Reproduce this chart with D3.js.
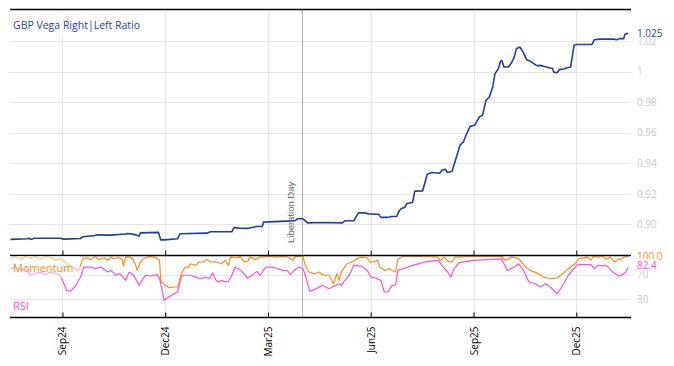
<!DOCTYPE html>
<html><head><meta charset="utf-8">
<script src="https://cdn.jsdelivr.net/npm/d3@7"></script>
<style>
html,body{margin:0;padding:0;background:#fff;}
svg{display:block;}
text{font-family:"Open Sans","Noto Sans",sans-serif;}
</style></head><body>
<svg id="c" width="674" height="366"></svg>
<script>
// ---------- DATA ----------
const dateDomain = ["2024-07-18", "2026-01-18"];
const ratioDates = ["2024-07-18","2024-08-02","2024-08-03","2024-08-05","2024-08-08","2024-08-31","2024-09-03","2024-09-18","2024-09-20","2024-10-01","2024-10-03","2024-10-15","2024-10-28","2024-10-30","2024-11-04","2024-11-09","2024-11-10","2024-11-26","2024-11-28","2024-12-01","2024-12-13","2024-12-15","2025-01-08","2025-01-11","2025-01-30","2025-02-01","2025-02-05","2025-02-13","2025-02-18","2025-02-21","2025-02-26","2025-02-27","2025-03-14","2025-03-27","2025-03-29","2025-04-03","2025-04-07","2025-04-19","2025-05-08","2025-05-10","2025-05-18","2025-05-22","2025-05-27","2025-05-31","2025-06-09","2025-06-11","2025-06-17","2025-06-20","2025-06-25","2025-06-27","2025-06-29","2025-07-02","2025-07-04","2025-07-09","2025-07-11","2025-07-18","2025-07-22","2025-07-26","2025-08-02","2025-08-04","2025-08-07","2025-08-09","2025-08-13","2025-08-16","2025-08-20","2025-08-23","2025-08-26","2025-08-29","2025-09-02","2025-09-06","2025-09-09","2025-09-12","2025-09-15","2025-09-18","2025-09-20","2025-09-23","2025-09-25","2025-09-26","2025-09-28","2025-10-02","2025-10-05","2025-10-07","2025-10-09","2025-10-12","2025-10-15","2025-10-18","2025-10-21","2025-10-27","2025-10-30","2025-11-02","2025-11-07","2025-11-10","2025-11-11","2025-11-14","2025-11-16","2025-11-20","2025-11-23","2025-11-26","2025-11-29","2025-12-01","2025-12-15","2025-12-17","2025-12-22","2026-01-03","2026-01-06","2026-01-08","2026-01-12","2026-01-13","2026-01-16"];
const ratioValues = [0.8902,0.8906,0.8910,0.8902,0.8910,0.8910,0.8904,0.8908,0.8919,0.8928,0.8932,0.8930,0.8937,0.8941,0.8935,0.8925,0.8945,0.8948,0.8899,0.8899,0.8906,0.8939,0.8943,0.8952,0.8952,0.8980,0.8976,0.8974,0.8982,0.8987,0.8987,0.9015,0.9020,0.9024,0.9037,0.9037,0.9010,0.9013,0.9010,0.9024,0.9024,0.9076,0.9076,0.9069,0.9067,0.9046,0.9046,0.9052,0.9052,0.9087,0.9105,0.9111,0.9137,0.9144,0.9218,0.9220,0.9329,0.9340,0.9335,0.9355,0.9361,0.9340,0.9348,0.9420,0.9518,0.9540,0.9595,0.9642,0.9649,0.9703,0.9714,0.9812,0.9834,0.9899,0.9987,1.0020,1.0069,1.0074,1.0030,1.0030,1.0063,1.0095,1.0150,1.0161,1.0128,1.0078,1.0069,1.0039,1.0041,1.0035,1.0026,1.0020,0.9997,0.9993,1.0013,1.0017,1.0026,1.0030,1.0172,1.0178,1.0178,1.0209,1.0213,1.0213,1.0209,1.0216,1.0216,1.0244,1.0252];

const momDates = ["2024-07-18","2024-07-22","2024-07-27","2024-07-31","2024-08-05","2024-08-09","2024-08-14","2024-08-18","2024-08-22","2024-08-27","2024-08-31","2024-09-05","2024-09-09","2024-09-14","2024-09-16","2024-09-18","2024-09-20","2024-09-24","2024-09-27","2024-10-01","2024-10-04","2024-10-09","2024-10-12","2024-10-15","2024-10-17","2024-10-22","2024-10-25","2024-10-26","2024-10-28","2024-10-31","2024-11-03","2024-11-06","2024-11-07","2024-11-10","2024-11-13","2024-11-17","2024-11-22","2024-11-25","2024-11-27","2024-11-28","2024-12-02","2024-12-06","2024-12-10","2024-12-13","2024-12-15","2024-12-17","2024-12-20","2024-12-23","2024-12-24","2024-12-29","2025-01-01","2025-01-05","2025-01-08","2025-01-11","2025-01-16","2025-01-21","2025-01-24","2025-01-27","2025-01-29","2025-02-02","2025-02-07","2025-02-10","2025-02-13","2025-02-15","2025-02-20","2025-02-24","2025-03-04","2025-03-10","2025-03-16","2025-03-21","2025-03-25","2025-03-27","2025-04-03","2025-04-05","2025-04-08","2025-04-13","2025-04-17","2025-04-21","2025-04-26","2025-04-30","2025-05-03","2025-05-05","2025-05-07","2025-05-09","2025-05-12","2025-05-17","2025-05-20","2025-05-25","2025-05-30","2025-06-01","2025-06-05","2025-06-08","2025-06-10","2025-06-12","2025-06-15","2025-06-18","2025-06-21","2025-06-24","2025-06-26","2025-06-30","2025-07-12","2025-07-20","2025-07-31","2025-08-03","2025-08-06","2025-08-10","2025-08-13","2025-08-16","2025-09-01","2025-09-26","2025-09-29","2025-10-05","2025-10-11","2025-10-16","2025-10-21","2025-10-27","2025-11-02","2025-11-08","2025-11-14","2025-11-19","2025-11-24","2025-11-30","2025-12-03","2025-12-11","2025-12-14","2025-12-16","2025-12-21","2025-12-24","2025-12-28","2025-12-31","2026-01-04","2026-01-08","2026-01-09","2026-01-12","2026-01-16"];
const momValues = [97,100,95,100,97,100,96,100,99,94,97,90,84,80,76,85,96,98,95,99.7,95,98,93.7,99,96.5,98,95,85,99,99,96.5,85,77,91,96.5,99.7,99,96.5,94,60.6,52.4,48.5,49.6,49.6,63.3,74.4,82.6,82.6,88,85.4,90.9,90.9,95.3,90.9,91,88,94,85.4,99,98,99,91,92,99,95.3,99,100,99,100,99,93.7,100,100,85.4,74.4,71.6,74.4,69,69,55,71.6,60.6,74.4,80,88,91,96,99,98,91,91,94,82.6,80,77,80,77,74.4,96,100,100,100,99,93.7,99,91,92,99,100,100,93.7,99,96.5,85.4,77,73,66,63.3,64.5,71.6,80,88,96,99,94,100,99,100,95.3,99,91,96.5,94,99,100];

const rsiDates = ["2024-07-18","2024-07-22","2024-07-27","2024-07-31","2024-08-05","2024-08-09","2024-08-14","2024-08-18","2024-08-22","2024-08-27","2024-08-31","2024-09-06","2024-09-09","2024-09-14","2024-09-18","2024-09-21","2024-09-27","2024-10-01","2024-10-06","2024-10-12","2024-10-15","2024-10-19","2024-10-23","2024-10-28","2024-10-31","2024-11-04","2024-11-09","2024-11-12","2024-11-15","2024-11-19","2024-11-25","2024-11-27","2024-11-29","2024-12-01","2024-12-05","2024-12-10","2024-12-13","2024-12-16","2024-12-18","2024-12-24","2024-12-29","2025-01-02","2025-01-07","2025-01-10","2025-01-13","2025-01-16","2025-01-18","2025-01-21","2025-01-24","2025-01-27","2025-01-30","2025-02-02","2025-02-07","2025-02-13","2025-02-17","2025-02-21","2025-02-24","2025-03-01","2025-03-07","2025-03-11","2025-03-16","2025-03-20","2025-03-23","2025-03-26","2025-03-30","2025-04-03","2025-04-05","2025-04-09","2025-04-14","2025-04-20","2025-04-26","2025-05-02","2025-05-05","2025-05-07","2025-05-09","2025-05-14","2025-05-18","2025-05-25","2025-05-30","2025-06-02","2025-06-06","2025-06-11","2025-06-14","2025-06-17","2025-06-21","2025-06-24","2025-06-26","2025-07-01","2025-07-09","2025-07-18","2025-07-20","2025-08-01","2025-08-04","2025-08-09","2025-08-12","2025-08-14","2025-08-19","2025-09-01","2025-09-26","2025-10-01","2025-10-07","2025-10-11","2025-10-16","2025-10-20","2025-10-26","2025-10-30","2025-11-04","2025-11-08","2025-11-14","2025-11-19","2025-11-24","2025-12-02","2025-12-14","2025-12-17","2025-12-20","2025-12-28","2026-01-03","2026-01-08","2026-01-11","2026-01-14","2026-01-16"];
const rsiValues = [80,82,78,80,69,72,74,70,74,72,69,44,42.5,52.4,66,82.6,82.6,80,82.6,74.4,77,69,71.6,60.6,74.4,69,52.4,63.3,69,67.8,70,63.3,46.8,27.6,33,38.5,41.3,66,69,69,66,63.3,66,63.3,73,60.6,57.9,60.6,58,59,69,82.6,77,64.5,69,75.5,69,82.6,82.6,80,77,77,70,77,82.6,80,69,42.5,45.7,52.4,46.8,52.4,55,52.4,57.9,69,85.4,84,77,66,64.5,60.6,41.3,41.3,52.4,53,77,80,85.4,89.8,91,93.7,85.4,74.4,66,77,89.8,93.7,96,77,82.6,88,74.4,57.9,55,49.6,55,49.6,38.5,52.4,69,86.5,86.5,80,85,85,73,67.8,70,74.4,82.4];

const tickDates = ["2024-09-02","2024-12-02","2025-03-03","2025-06-02","2025-09-01","2025-12-01"];
const tickLabels = ["Sep24","Dec24","Mar25","Jun25","Sep25","Dec25"];
const ratioTicks = [0.90,0.92,0.94,0.96,0.98,1.00,1.02];
const ratioTickLabels = ["0.90","0.92","0.94","0.96","0.98","1","1.02"];
const oscTicks = [70,30];
const eventDate = "2025-04-02";
const eventLabel = "Liberation Day";
const titleText = "GBP Vega Right|Left Ratio";

// ---------- STYLE ----------
const BLUE = "#1c3fa3", ORANGE = "#ff8c1a", PINK = "#ff4fd8", GRID = "#e6e6e6", TICKTXT = "#c8c8c8";
const pL = 10, pR = 630, topY = 9, midY = 255, botY = 317;

const parse = d3.timeParse("%Y-%m-%d");
const svg = d3.select("#c");

const x = d3.scaleTime().domain(dateDomain.map(parse)).range([pL + 0.5, pR + 0.5]);
const yTop = d3.scaleLinear().domain([0.88, 1.041]).range([midY, topY]);
const yBot = d3.scaleLinear().domain([0, 102.5]).range([botY, midY]);

const ratio = ratioDates.map((d, i) => ({date: parse(d), v: ratioValues[i]}));
const mom = momDates.map((d, i) => ({date: parse(d), v: momValues[i]}));
const rsi = rsiDates.map((d, i) => ({date: parse(d), v: rsiValues[i]}));
const ticks = tickDates.map(parse);

// gridlines
const g = svg.append("g");
g.selectAll(".hg").data(ratioTicks).join("line")
  .attr("x1", pL).attr("x2", pR)
  .attr("y1", d => Math.round(yTop(d)) + 0.5).attr("y2", d => Math.round(yTop(d)) + 0.5)
  .attr("stroke", GRID).attr("stroke-width", 1);
g.selectAll(".hg2").data(oscTicks).join("line")
  .attr("x1", pL).attr("x2", pR)
  .attr("y1", d => Math.round(yBot(d)) + 0.5).attr("y2", d => Math.round(yBot(d)) + 0.5)
  .attr("stroke", GRID).attr("stroke-width", 1);
g.selectAll(".vg").data(ticks).join("line")
  .attr("x1", d => Math.round(x(d)) + 0.5).attr("x2", d => Math.round(x(d)) + 0.5)
  .attr("y1", topY).attr("y2", botY)
  .attr("stroke", GRID).attr("stroke-width", 1);

// event line
const ex = Math.round(x(parse(eventDate))) + 0.5;
svg.append("line").attr("x1", ex).attr("x2", ex).attr("y1", topY).attr("y2", botY)
  .attr("stroke", "#b0b0b0").attr("stroke-width", 1);
svg.append("text").attr("transform", `translate(${ex - 9},243) rotate(-90)`)
  .attr("fill", "#666").style("font-family", "'Liberation Sans',Arial,sans-serif")
  .style("font-size", "9.5px").text(eventLabel);

// clip paths
svg.append("clipPath").attr("id", "ct").append("rect").attr("x", pL).attr("y", topY).attr("width", pR - pL + 2).attr("height", midY - topY);
svg.append("clipPath").attr("id", "cb").append("rect").attr("x", pL).attr("y", midY).attr("width", pR - pL + 2).attr("height", botY - midY);

// series
const lineTop = d3.line().x(d => x(d.date)).y(d => yTop(d.v));
const lineBot = d3.line().x(d => x(d.date)).y(d => yBot(d.v));
svg.append("path").datum(ratio).attr("d", lineTop).attr("fill", "none")
  .attr("stroke", BLUE).attr("stroke-width", 1.6).attr("stroke-linejoin", "round").attr("clip-path", "url(#ct)");
svg.append("path").datum(rsi).attr("d", lineBot).attr("fill", "none")
  .attr("stroke", PINK).attr("stroke-width", 1.2).attr("stroke-linejoin", "round").attr("clip-path", "url(#cb)");
svg.append("path").datum(mom).attr("d", lineBot).attr("fill", "none")
  .attr("stroke", ORANGE).attr("stroke-width", 1.2).attr("stroke-linejoin", "round").attr("clip-path", "url(#cb)");

// panel borders
[topY, midY, botY].forEach(yy => {
  svg.append("line").attr("x1", pL).attr("x2", pR + 1).attr("y1", yy + 0.5).attr("y2", yy + 0.5)
    .attr("stroke", "#000").attr("stroke-width", 1.3);
});

// x ticks (inward) + labels via axis
const axTop = d3.axisBottom(x).tickValues(ticks).tickSizeInner(-5).tickSizeOuter(0).tickFormat("");
svg.append("g").attr("transform", `translate(0,${midY + 0.5})`).call(axTop)
  .call(a => a.select(".domain").remove())
  .call(a => a.selectAll("line").attr("stroke", "#000"));
const axBot = d3.axisBottom(x).tickValues(ticks).tickSizeInner(-5).tickSizeOuter(0)
  .tickFormat((d, i) => tickLabels[i]);
svg.append("g").attr("transform", `translate(0,${botY + 0.5})`).call(axBot)
  .call(a => a.select(".domain").remove())
  .call(a => a.selectAll("line").attr("stroke", "#000"))
  .call(a => a.selectAll("text")
    .attr("transform", "rotate(-90)")
    .attr("text-anchor", "end")
    .attr("x", -9).attr("y", 0).attr("dy", "0.35em")
    .attr("fill", "#000").style("font-size", "10px").style("font-family", "'Open Sans',sans-serif"));

// right axes
const axR = d3.axisRight(yTop).tickValues(ratioTicks).tickSize(0).tickPadding(7)
  .tickFormat((d, i) => ratioTickLabels[i]);
svg.append("g").attr("transform", `translate(${pR},0)`).call(axR)
  .call(a => a.select(".domain").remove())
  .call(a => a.selectAll("text").attr("fill", TICKTXT).style("font-size", "10px").style("font-family", "'Open Sans',sans-serif"));
const axR2 = d3.axisRight(yBot).tickValues(oscTicks).tickSize(0).tickPadding(7).tickFormat(d3.format("d"));
svg.append("g").attr("transform", `translate(${pR},0)`).call(axR2)
  .call(a => a.select(".domain").remove())
  .call(a => a.selectAll("text").attr("fill", TICKTXT).style("font-size", "10px").style("font-family", "'Open Sans',sans-serif"));

// last-value labels (white backing, as in the reference)
function lastLabel(yPix, txt, col) {
  const t = svg.append("text").attr("x", pR + 7).attr("y", yPix).attr("dy", "0.35em")
    .attr("fill", col).style("font-size", "10px").text(txt);
  const bb = t.node().getBBox();
  svg.insert("rect", () => t.node()).attr("x", bb.x - 1).attr("y", bb.y + 1).attr("width", bb.width + 2).attr("height", bb.height - 2).attr("fill", "#fff");
}
const lr = ratio[ratio.length - 1], lm = mom[mom.length - 1], ls = rsi[rsi.length - 1];
lastLabel(yTop(lr.v), d3.format(".3f")(lr.v).replace(/0+$/, ""), BLUE);
lastLabel(yBot(lm.v), d3.format(".1f")(lm.v), ORANGE);
lastLabel(yBot(ls.v) - 2, d3.format(".1f")(ls.v), PINK);

// title with white box
svg.append("rect").attr("x", pL + 1).attr("y", topY + 2).attr("width", 138).attr("height", 25).attr("fill", "#fff");
svg.append("text").attr("x", 13).attr("y", 29).attr("fill", BLUE).style("font-size", "10.5px").text(titleText);

// oscillator labels (semi-transparent white backing)
svg.append("rect").attr("x", pL).attr("y", midY + 1).attr("width", 70).attr("height", 22).attr("fill", "#fff").attr("opacity", 0.5);
svg.append("text").attr("x", 13).attr("y", 272).attr("fill", ORANGE).style("font-size", "11px").text("Momentum");
svg.append("text").attr("x", 13).attr("y", 309.5).attr("fill", PINK).style("font-size", "11px").text("RSI");
</script>
</body></html>
